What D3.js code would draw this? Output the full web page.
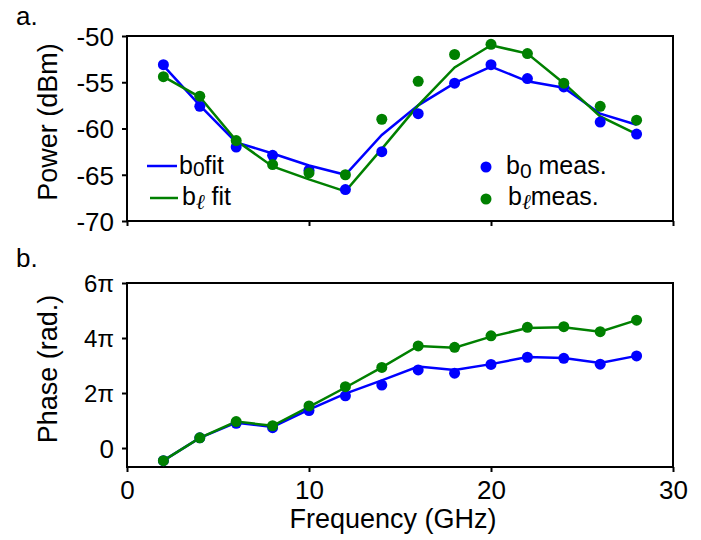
<!DOCTYPE html>
<html>
<head>
<meta charset="utf-8">
<script src="https://cdn.jsdelivr.net/npm/d3@7"></script>
<style>
  body { margin: 0; background: #fff; }
  text { font-family: "Liberation Sans", Arial, sans-serif; fill: #000; }
</style>
</head>
<body>
<div id="chart"></div>
<script>
var svgWidth = 701;
var svgHeight = 540;

// frequencies (GHz)
var freq = [2, 4, 6, 8, 10, 12, 14, 16, 18, 20, 22, 24, 26, 28];

// power (dBm)
var b0Meas = [-53.1, -57.6, -62.0, -62.9, -64.5, -66.6, -62.5, -58.4, -55.1, -53.1, -54.6, -55.5, -59.3, -60.6];
var blMeas = [-54.4, -56.5, -61.3, -63.9, -64.8, -65.0, -59.0, -54.9, -52.0, -50.9, -51.9, -55.1, -57.6, -59.1];
var b0Fit = [-53.2, -57.5, -61.5, -62.7, -64.0, -65.0, -60.7, -57.5, -55.1, -53.3, -54.9, -55.6, -58.4, -59.6];
var blFit = [-54.4, -56.6, -61.3, -64.1, -65.5, -66.8, -62.2, -57.5, -53.4, -51.0, -51.9, -55.1, -58.7, -60.6];

// phase (in units of pi)
var b0Phase = [-0.46, 0.37, 0.90, 0.74, 1.36, 1.90, 2.29, 2.84, 2.72, 3.04, 3.30, 3.26, 3.05, 3.35];
var blPhase = [-0.46, 0.37, 0.96, 0.81, 1.53, 2.23, 2.93, 3.71, 3.66, 4.08, 4.39, 4.41, 4.23, 4.65];
var b0PhaseFit = [-0.46, 0.37, 0.92, 0.77, 1.40, 1.98, 2.46, 2.96, 2.84, 3.05, 3.31, 3.27, 3.09, 3.35];
var blPhaseFit = [-0.46, 0.37, 0.96, 0.81, 1.50, 2.20, 2.93, 3.71, 3.65, 4.05, 4.36, 4.39, 4.23, 4.65];

var xTicks = [0, 10, 20, 30];
var powerTicks = [-50, -55, -60, -65, -70];
var phaseTicks = [0, 2, 4, 6];

var blue = "#0000ff";
var green = "#008000";

var margin = { left: 127, right: 28 };
var chartWidth = svgWidth - margin.left - margin.right;

var svg = d3.select("#chart")
    .append("svg")
    .attr("width", svgWidth)
    .attr("height", svgHeight);

var xScale = d3.scaleLinear().domain([0, 30]).range([0, chartWidth]);

function drawPanel(top, height, yDomain, yTickVals, yFormat, series, showXLabels) {
    var g = svg.append("g").attr("transform", `translate(${margin.left}, ${top})`);
    var yScale = d3.scaleLinear().domain(yDomain).range([height, 0]);

    g.append("rect")
        .attr("width", chartWidth)
        .attr("height", height)
        .attr("fill", "none")
        .attr("stroke", "#000")
        .attr("stroke-width", 2);

    var yAxis = g.append("g")
        .call(d3.axisLeft(yScale).tickValues(yTickVals).tickSize(5).tickSizeOuter(0).tickFormat(yFormat));
    var xAxis = g.append("g")
        .attr("transform", `translate(0, ${height})`)
        .call(d3.axisBottom(xScale).tickValues(xTicks).tickSize(5).tickSizeOuter(0)
            .tickFormat(showXLabels ? d => String(d) : ""));

    [yAxis, xAxis].forEach(function (ax) {
        ax.select(".domain").remove();
        ax.selectAll("line").attr("stroke-width", 2);
        ax.selectAll("text").attr("font-size", "26px").attr("font-family", "Liberation Sans, Arial, sans-serif");
    });
    yAxis.selectAll("text").attr("x", -13).attr("dy", "0.36em");
    xAxis.selectAll("text").attr("y", 32).attr("dy", 0);

    var line = d3.line()
        .x((d, i) => xScale(freq[i]))
        .y(d => yScale(d));

    series.forEach(function (s) {
        g.append("path")
            .datum(s.fit)
            .attr("d", line)
            .attr("fill", "none")
            .attr("stroke", s.color)
            .attr("stroke-width", 2.5);
    });
    series.forEach(function (s) {
        g.selectAll(null)
            .data(s.meas)
            .enter()
            .append("circle")
            .attr("cx", (d, i) => xScale(freq[i]))
            .attr("cy", d => yScale(d))
            .attr("r", 5.5)
            .attr("fill", s.color);
    });
    return { g: g, yScale: yScale, yAxis: yAxis };
}

// Panel a: power
var panelA = drawPanel(36, 185, [-70, -50], powerTicks, d => String(d), [
    { meas: b0Meas, fit: b0Fit, color: blue },
    { meas: blMeas, fit: blFit, color: green }
], false);

// Panel b: phase
var panelB = drawPanel(283, 184, [-0.69, 6], phaseTicks, d => "", [
    { meas: b0Phase, fit: b0PhaseFit, color: blue },
    { meas: blPhase, fit: blPhaseFit, color: green }
], true);

// phase tick labels, serif with pi
panelB.yAxis.selectAll(".tick text").each(function (d) {
    var t = d3.select(this);
    if (d === 0) { t.text("0"); return; }
    t.attr("font-family", "Liberation Serif, Times New Roman, serif")
        .attr("font-size", "24px")
        .text(d + "π");
});

// axis labels
svg.append("text")
    .attr("transform", "rotate(-90)")
    .attr("x", -122)
    .attr("y", 57)
    .attr("text-anchor", "middle")
    .attr("font-size", "27px")
    .text("Power (dBm)");

svg.append("text")
    .attr("transform", "rotate(-90)")
    .attr("x", -369)
    .attr("y", 57)
    .attr("text-anchor", "middle")
    .attr("font-size", "27px")
    .text("Phase (rad.)");

svg.append("text")
    .attr("x", 393)
    .attr("y", 528)
    .attr("text-anchor", "middle")
    .attr("font-size", "27px")
    .text("Frequency (GHz)");

// panel letters
svg.append("text").attr("x", 16).attr("y", 25).attr("font-size", "26px").text("a.");
svg.append("text").attr("x", 16).attr("y", 267).attr("font-size", "26px").text("b.");

// legends
function legendLabel(x, y, sub, rest, italicSub, subDy) {
    var t = svg.append("text").attr("x", x).attr("y", y).attr("font-size", "25px");
    t.append("tspan").text("b");
    var s = t.append("tspan").attr("dy", subDy).attr("font-size", "21px").text(sub);
    if (italicSub) s.attr("font-family", "Liberation Serif, serif").attr("font-style", "italic").attr("font-size", "21px");
    t.append("tspan").attr("dy", -subDy).text(rest);
}

svg.append("line").attr("x1", 147).attr("x2", 177).attr("y1", 166).attr("y2", 166)
    .attr("stroke", blue).attr("stroke-width", 2.5);
legendLabel(179, 174, "0", "fit", false, 2);
svg.append("line").attr("x1", 150).attr("x2", 178).attr("y1", 198).attr("y2", 198)
    .attr("stroke", green).attr("stroke-width", 2.5);
legendLabel(182, 205, "ℓ", " fit", true, 4);

svg.append("circle").attr("cx", 486).attr("cy", 167).attr("r", 5.5).attr("fill", blue);
legendLabel(506, 174, "0", " meas.", false, 4);
svg.append("circle").attr("cx", 486).attr("cy", 199).attr("r", 5.5).attr("fill", green);
legendLabel(508, 205, "ℓ", "meas.", true, 4);
</script>
</body>
</html>
